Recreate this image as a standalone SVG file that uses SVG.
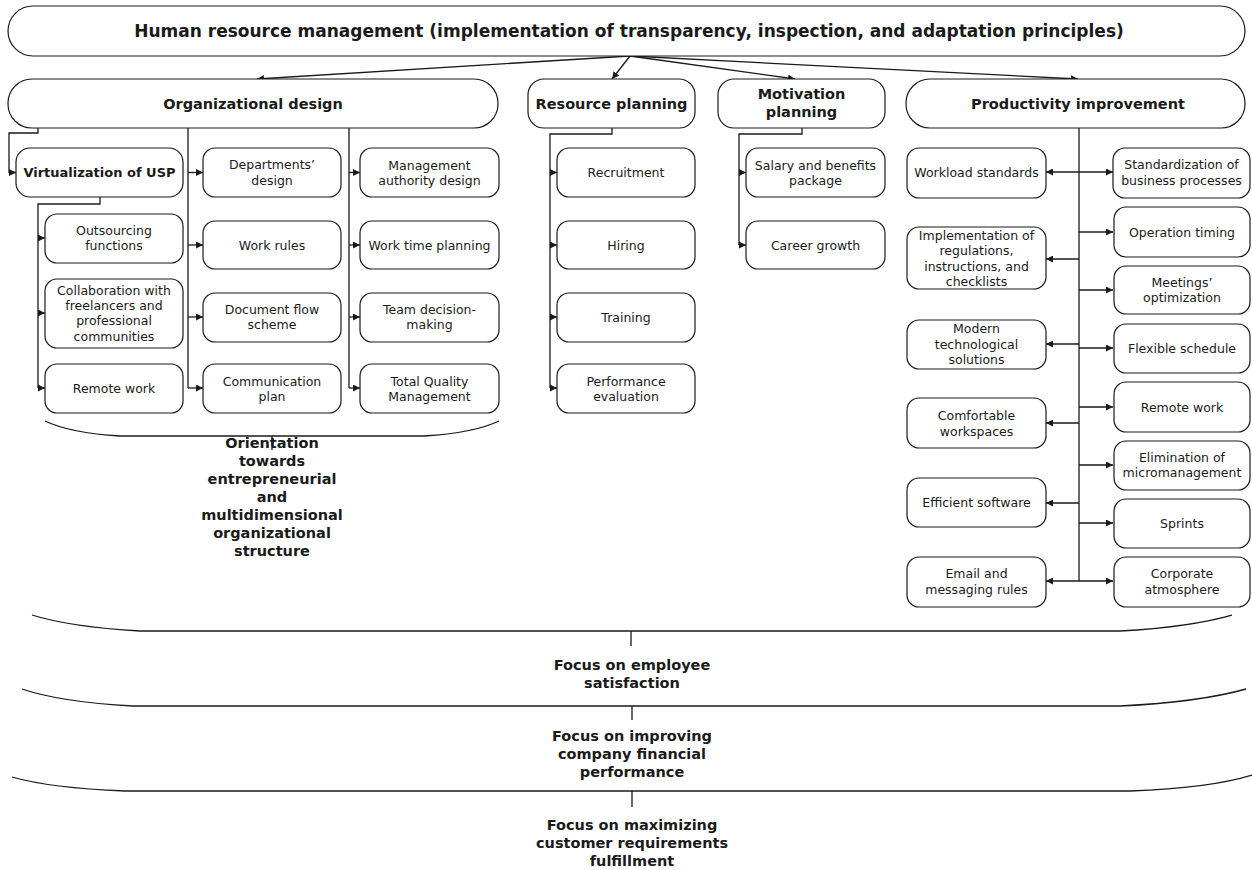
<svg xmlns="http://www.w3.org/2000/svg" width="1252" height="870" viewBox="0 0 1252 870">
<style>
.box{fill:#fff;stroke:#1a1a1a;stroke-width:1.2}
.t{font-family:"DejaVu Sans",Verdana,sans-serif;font-size:12.5px;text-anchor:middle;fill:#1a1a1a}
.b{font-weight:bold;font-size:14.5px}
.bt{font-weight:bold;font-size:17px}
.bs{font-weight:bold;font-size:13px}
.ln{fill:none;stroke:#1a1a1a;stroke-width:1.3}
.ar{fill:none;stroke:#1a1a1a;stroke-width:1.3;marker-end:url(#ah)}
.dar{fill:none;stroke:#1a1a1a;stroke-width:1.3;marker-end:url(#ah);marker-start:url(#ah)}
</style>
<defs>
<marker id="ah" viewBox="0 0 8 8" refX="8" refY="4" markerWidth="7" markerHeight="7" markerUnits="userSpaceOnUse" orient="auto-start-reverse">
<path d="M0,0 L8,4 L0,8 z" fill="#1a1a1a"/>
</marker>
</defs>
<rect width="1252" height="870" fill="#fff"/>

<g id="connectors">
<path class="ar" d="M630,56 L257,79"/>
<path class="ar" d="M630,56 L612,79"/>
<path class="ar" d="M630,56 L795,79"/>
<path class="ar" d="M630,56 L1078,79"/>
<path class="ar" d="M38,128 V133 H9 V172.5 H16"/>
<path class="ln" d="M100,197 V204 H38 V388"/>
<path class="ar" d="M38,238 H45"/>
<path class="ar" d="M38,313 H45"/>
<path class="ar" d="M38,388 H45"/>
<path class="ln" d="M188,128 V388"/>
<path class="ar" d="M188,172.5 H203"/>
<path class="ar" d="M188,245 H203"/>
<path class="ar" d="M188,317 H203"/>
<path class="ar" d="M188,388 H203"/>
<path class="ln" d="M349,128 V388"/>
<path class="ar" d="M349,172.5 H360"/>
<path class="ar" d="M349,245 H360"/>
<path class="ar" d="M349,317 H360"/>
<path class="ar" d="M349,388 H360"/>
<path class="ln" d="M612,128 V134 H550 V388"/>
<path class="ar" d="M550,172.5 H557"/>
<path class="ar" d="M550,245 H557"/>
<path class="ar" d="M550,317 H557"/>
<path class="ar" d="M550,388 H557"/>
<path class="ln" d="M802,128 V134 H739 V245"/>
<path class="ar" d="M739,172.5 H746"/>
<path class="ar" d="M739,245 H746"/>
<path class="ln" d="M1079,128 V581"/>
<path class="dar" d="M1046,172 H1113"/>
<path class="ar" d="M1079,232 H1113"/>
<path class="ar" d="M1079,259 H1046"/>
<path class="ar" d="M1079,290 H1113"/>
<path class="ar" d="M1079,344 H1046"/>
<path class="ar" d="M1079,348 H1113"/>
<path class="ar" d="M1079,407 H1113"/>
<path class="ar" d="M1079,423 H1046"/>
<path class="ar" d="M1079,465 H1113"/>
<path class="ar" d="M1079,503 H1046"/>
<path class="ar" d="M1079,523 H1113"/>
<path class="dar" d="M1046,581 H1113"/>
<path class="ln" d="M45,421 Q70,433 120,436 H424 Q474,433 499,421"/>
<path class="ln" d="M272,436 V450"/>
<path class="ln" d="M32,615 Q70,627 140,631 H1120 Q1190,627 1232,615"/>
<path class="ln" d="M631,631 V646"/>
<path class="ln" d="M22,689 Q60,702 133,706 H1120 Q1200,702 1246,689"/>
<path class="ln" d="M632,706 V720"/>
<path class="ln" d="M12,777 Q50,788 125,791 H1130 Q1210,788 1252,775"/>
<path class="ln" d="M632,791 V807"/>
</g>

<g id="hrm"><rect class="box" x="8" y="6" width="1237" height="50" rx="25"/>
<text class="t bt" x="629" y="37">Human resource management (implementation of transparency, inspection, and adaptation principles)</text></g>

<g id="org"><rect class="box" x="8" y="79" width="490" height="49" rx="24"/>
<text class="t b" x="253" y="108.5">Organizational design</text></g>
<g id="res"><rect class="box" x="528" y="79" width="167" height="49" rx="16"/>
<text class="t b" x="611.5" y="108.5">Resource planning</text></g>
<g id="mot"><rect class="box" x="718" y="79" width="167" height="49" rx="16"/>
<text class="t b" x="801.5" y="99">Motivation</text><text class="t b" x="801.5" y="117">planning</text></g>
<g id="prod"><rect class="box" x="906" y="79" width="339" height="49" rx="24"/>
<text class="t b" x="1078" y="108.5">Productivity improvement</text></g>

<g id="virt"><rect class="box" x="16" y="148" width="167" height="49" rx="14"/>
<text class="t bs" x="99.5" y="177">Virtualization of USP</text></g>
<g id="outs"><rect class="box" x="45" y="214" width="138" height="49" rx="12"/>
<text class="t" x="114" y="234.5">Outsourcing</text><text class="t" x="114" y="250">functions</text></g>
<g id="collab"><rect class="box" x="45" y="279" width="138" height="69" rx="12"/>
<text class="t" x="114" y="294.5">Collaboration with</text><text class="t" x="114" y="309.5">freelancers and</text><text class="t" x="114" y="325">professional</text><text class="t" x="114" y="340.5">communities</text></g>
<g id="remote1"><rect class="box" x="45" y="364" width="138" height="49" rx="12"/>
<text class="t" x="114" y="392.5">Remote work</text></g>

<g id="dept"><rect class="box" x="203" y="148" width="138" height="49" rx="12"/>
<text class="t" x="272" y="168.5">Departments’</text><text class="t" x="272" y="184.5">design</text></g>
<g id="rules"><rect class="box" x="203" y="221" width="138" height="48" rx="12"/>
<text class="t" x="272" y="249.5">Work rules</text></g>
<g id="docflow"><rect class="box" x="203" y="293" width="138" height="49" rx="12"/>
<text class="t" x="272" y="313.5">Document flow</text><text class="t" x="272" y="328.5">scheme</text></g>
<g id="comm"><rect class="box" x="203" y="364" width="138" height="49" rx="12"/>
<text class="t" x="272" y="385.5">Communication</text><text class="t" x="272" y="400.5">plan</text></g>

<g id="auth"><rect class="box" x="360" y="148" width="139" height="49" rx="12"/>
<text class="t" x="429.5" y="169.5">Management</text><text class="t" x="429.5" y="184.5">authority design</text></g>
<g id="wtime"><rect class="box" x="360" y="221" width="139" height="48" rx="12"/>
<text class="t" x="429.5" y="249.5">Work time planning</text></g>
<g id="team"><rect class="box" x="360" y="293" width="139" height="49" rx="12"/>
<text class="t" x="429.5" y="313.5">Team decision-</text><text class="t" x="429.5" y="328.5">making</text></g>
<g id="tqm"><rect class="box" x="360" y="364" width="139" height="49" rx="12"/>
<text class="t" x="429.5" y="385.5">Total Quality</text><text class="t" x="429.5" y="400.5">Management</text></g>

<g id="orient"><text class="t b" x="272" y="448">Orientation</text><text class="t b" x="272" y="466">towards</text><text class="t b" x="272" y="484">entrepreneurial</text><text class="t b" x="272" y="502">and</text><text class="t b" x="272" y="520">multidimensional</text><text class="t b" x="272" y="538">organizational</text><text class="t b" x="272" y="556">structure</text></g>

<g id="recr"><rect class="box" x="557" y="148" width="138" height="49" rx="12"/>
<text class="t" x="626" y="177">Recruitment</text></g>
<g id="hire"><rect class="box" x="557" y="221" width="138" height="48" rx="12"/>
<text class="t" x="626" y="249.5">Hiring</text></g>
<g id="train"><rect class="box" x="557" y="293" width="138" height="49" rx="12"/>
<text class="t" x="626" y="321.5">Training</text></g>
<g id="perf"><rect class="box" x="557" y="364" width="138" height="49" rx="12"/>
<text class="t" x="626" y="385.5">Performance</text><text class="t" x="626" y="400.5">evaluation</text></g>

<g id="salary"><rect class="box" x="746" y="148" width="139" height="49" rx="12"/>
<text class="t" x="815.5" y="169.5">Salary and benefits</text><text class="t" x="815.5" y="184.5">package</text></g>
<g id="career"><rect class="box" x="746" y="221" width="139" height="48" rx="12"/>
<text class="t" x="815.5" y="249.5">Career growth</text></g>

<g id="workload"><rect class="box" x="907" y="148" width="139" height="50" rx="12"/>
<text class="t" x="976.5" y="176.5">Workload standards</text></g>
<g id="impl"><rect class="box" x="907" y="227" width="139" height="62" rx="12"/>
<text class="t" x="976.5" y="239.5">Implementation of</text><text class="t" x="976.5" y="255">regulations,</text><text class="t" x="976.5" y="270.5">instructions, and</text><text class="t" x="976.5" y="285.5">checklists</text></g>
<g id="modern"><rect class="box" x="907" y="320" width="139" height="49" rx="12"/>
<text class="t" x="976.5" y="332.5">Modern</text><text class="t" x="976.5" y="348.5">technological</text><text class="t" x="976.5" y="363.5">solutions</text></g>
<g id="comfort"><rect class="box" x="907" y="398" width="139" height="50" rx="12"/>
<text class="t" x="976.5" y="419.5">Comfortable</text><text class="t" x="976.5" y="435.5">workspaces</text></g>
<g id="software"><rect class="box" x="907" y="478" width="139" height="49" rx="12"/>
<text class="t" x="976.5" y="506.5">Efficient software</text></g>
<g id="email"><rect class="box" x="907" y="557" width="139" height="50" rx="12"/>
<text class="t" x="976.5" y="577.5">Email and</text><text class="t" x="976.5" y="593.5">messaging rules</text></g>

<g id="stdz"><rect class="box" x="1113" y="148" width="137" height="50" rx="12"/>
<text class="t" x="1181.5" y="168.5">Standardization of</text><text class="t" x="1181.5" y="184.5">business processes</text></g>
<g id="optime"><rect class="box" x="1114" y="207" width="136" height="50" rx="12"/>
<text class="t" x="1182" y="236.5">Operation timing</text></g>
<g id="meet"><rect class="box" x="1114" y="266" width="136" height="48" rx="12"/>
<text class="t" x="1182" y="286.5">Meetings’</text><text class="t" x="1182" y="301.5">optimization</text></g>
<g id="flex"><rect class="box" x="1114" y="324" width="136" height="49" rx="12"/>
<text class="t" x="1182" y="352.5">Flexible schedule</text></g>
<g id="remote2"><rect class="box" x="1114" y="382" width="136" height="50" rx="12"/>
<text class="t" x="1182" y="411.5">Remote work</text></g>
<g id="micro"><rect class="box" x="1114" y="441" width="136" height="49" rx="12"/>
<text class="t" x="1182" y="461.5">Elimination of</text><text class="t" x="1182" y="477">micromanagement</text></g>
<g id="sprints"><rect class="box" x="1114" y="499" width="136" height="49" rx="12"/>
<text class="t" x="1182" y="527.5">Sprints</text></g>
<g id="corp"><rect class="box" x="1114" y="557" width="136" height="50" rx="12"/>
<text class="t" x="1182" y="577.5">Corporate</text><text class="t" x="1182" y="593.5">atmosphere</text></g>

<g id="focus1"><text class="t b" x="632" y="670">Focus on employee</text><text class="t b" x="632" y="688">satisfaction</text></g>
<g id="focus2"><text class="t b" x="632" y="741">Focus on improving</text><text class="t b" x="632" y="759">company financial</text><text class="t b" x="632" y="777">performance</text></g>
<g id="focus3"><text class="t b" x="632" y="830">Focus on maximizing</text><text class="t b" x="632" y="848">customer requirements</text><text class="t b" x="632" y="866">fulfillment</text></g>
</svg>
